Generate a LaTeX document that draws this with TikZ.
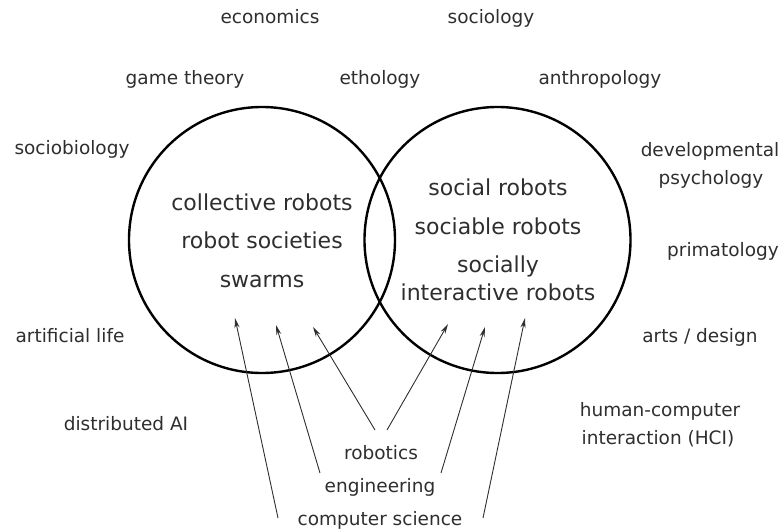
\documentclass[tikz,border=0pt]{standalone}
\usepackage{fontspec}
\setmainfont{DejaVu Sans}
\usetikzlibrary{arrows.meta}
\definecolor{txt}{HTML}{2E2E2E}
\begin{document}
\begin{tikzpicture}[x=1pt,y=-1pt,
  lab/.style={text=txt, font=\fontsize{18.5}{28}\selectfont, inner sep=0pt, text height=0.75em, text depth=0.2em, yshift=-5pt},
  inr/.style={text=txt, font=\fontsize{22}{28}\selectfont, inner sep=0pt, text height=0.75em, text depth=0.2em, yshift=-5pt},
  ring/.style={draw=black, line width=2.4pt, circle, minimum size=266pt, inner sep=0pt},
  feed/.style={draw=txt, line width=0.9pt, -{Stealth[length=10pt,width=5pt]}}]
\useasboundingbox (0,0) rectangle (784,530);
% circles
\node[ring] (L) at (262,240) {};
\node[ring] (R) at (497.5,240) {};
% outer labels
\node[lab] (econ) at (270,16) {economics};
\node[lab] (soc) at (491,16) {sociology};
\node[lab] (game) at (185,77) {game theory};
\node[lab] (etho) at (380,77) {ethology};
\node[lab] (anth) at (600,77) {anthropology};
\node[lab] (sbio) at (72,147) {sociobiology};
\node[lab] (dev1) at (710,149) {developmental};
\node[lab] (dev2) at (711,177) {psychology};
\node[lab] (prim) at (723,249) {primatology};
\node[lab] (alife) at (70,335) {artificial life};
\node[lab] (arts) at (700,335) {arts / design};
\node[lab] (dai) at (126,423) {distributed AI};
\node[lab] (hci1) at (660,409) {human-computer};
\node[lab] (hci2) at (658,437) {interaction (HCI)};
% inner labels
\node[inr] (l1) at (262,203) {collective robots};
\node[inr] (l2) at (262,241) {robot societies};
\node[inr] (l3) at (262,280) {swarms};
\node[inr] (r1) at (498,188) {social robots};
\node[inr] (r2) at (498,227) {sociable robots};
\node[inr] (r3) at (498,265) {socially};
\node[inr] (r4) at (498,293) {interactive robots};
% bottom labels
\node[lab] (rob) at (381,452) {robotics};
\node[lab] (eng) at (380,485) {engineering};
\node[lab] (cs) at (380,518) {computer science};
% arrow ends
\coordinate (csL) at (278,518);
\coordinate (csR) at (483,518);
\coordinate (engL) at (320,473);
\coordinate (engR) at (441,473);
\coordinate (robL) at (375,430);
\coordinate (robR) at (387,430);
\coordinate (h1) at (235,318);
\coordinate (h2) at (276,325);
\coordinate (h3) at (313,327);
\coordinate (h4) at (448,324);
\coordinate (h5) at (485,327);
\coordinate (h6) at (525,318);
\draw[feed] (csL) -- (h1);
\draw[feed] (engL) -- (h2);
\draw[feed] (robL) -- (h3);
\draw[feed] (robR) -- (h4);
\draw[feed] (engR) -- (h5);
\draw[feed] (csR) -- (h6);
\end{tikzpicture}
\end{document}
